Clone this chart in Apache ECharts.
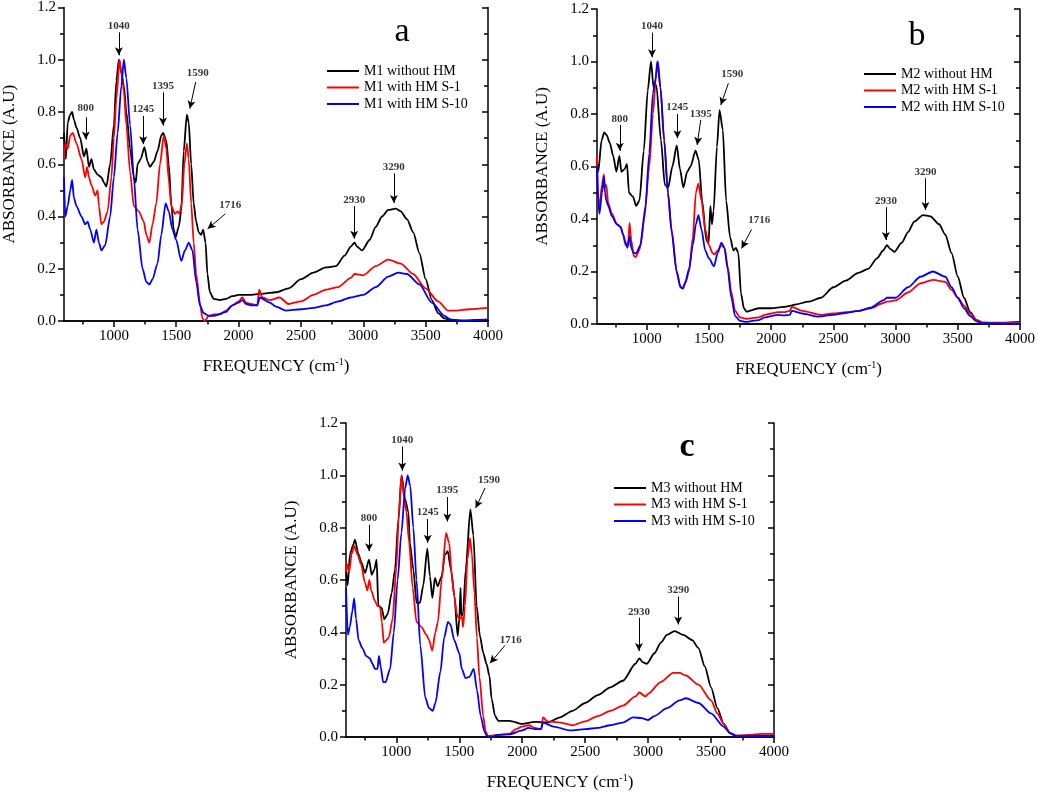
<!DOCTYPE html>
<html><head><meta charset="utf-8">
<script src="https://cdn.jsdelivr.net/npm/echarts@6/dist/echarts.min.js"></script>
<style>html,body{margin:0;padding:0;background:#fff}#c{width:1038px;height:792px}</style>
</head><body><div id="c"></div>
<script>
const FREQ_TICKS = [1000,1500,2000,2500,3000,3500,4000];
const FREQ_MINOR = [750,1250,1750,2250,2750,3250,3750];
const ABS_MINOR = [0.1,0.3,0.5,0.7,0.9,1.1];
const NAMES_A = ['M1 without HM','M1 with HM S-1','M1 with HM S-10'];
const NAMES_B = ['M2 without HM','M2 with HM S-1','M2 with HM S-10'];
const NAMES_C = ['M3 without HM','M3 with HM S-1','M3 with HM S-10'];
const PANEL_LETTERS = ['a','b','c'];

// Panel a (M1)
const a_black = [[600,0.72],[615,0.62],[630,0.76],[650,0.79],[665,0.80],[680,0.77],[700,0.74],[730,0.70],[760,0.63],[780,0.66],[800,0.59],[820,0.62],[840,0.58],[870,0.56],[900,0.55],[920,0.53],[940,0.515],[970,0.60],[1000,0.75],[1020,0.92],[1040,1.00],[1060,0.95],[1080,0.90],[1100,0.80],[1130,0.66],[1160,0.55],[1175,0.53],[1190,0.60],[1215,0.62],[1245,0.665],[1270,0.61],[1290,0.59],[1320,0.61],[1350,0.65],[1380,0.71],[1395,0.72],[1420,0.69],[1440,0.60],[1460,0.45],[1480,0.35],[1495,0.32],[1520,0.36],[1540,0.42],[1560,0.65],[1585,0.79],[1600,0.76],[1620,0.60],[1640,0.45],[1660,0.38],[1680,0.34],[1700,0.33],[1716,0.35],[1735,0.30],[1750,0.18],[1770,0.11],[1800,0.085],[1850,0.08],[1900,0.085],[1950,0.095],[2000,0.10],[2100,0.10],[2200,0.105],[2300,0.11],[2400,0.125],[2500,0.16],[2600,0.185],[2700,0.205],[2780,0.21],[2850,0.25],[2900,0.285],[2930,0.30],[2950,0.285],[2990,0.27],[3050,0.31],[3100,0.36],[3150,0.40],[3200,0.425],[3260,0.43],[3300,0.42],[3350,0.39],[3400,0.34],[3450,0.26],[3500,0.16],[3550,0.08],[3600,0.03],[3650,0.01],[3700,0.005],[3800,0.002],[4000,0.005]];
const a_red = [[600,0.62],[610,0.68],[630,0.66],[650,0.71],[670,0.72],[700,0.68],[740,0.62],[770,0.55],[785,0.59],[800,0.55],[820,0.52],[850,0.48],[870,0.50],[880,0.44],[900,0.37],[920,0.38],[950,0.42],[980,0.55],[1000,0.70],[1020,0.85],[1045,1.00],[1060,0.95],[1080,0.88],[1100,0.75],[1130,0.57],[1160,0.44],[1200,0.42],[1240,0.38],[1260,0.33],[1285,0.30],[1310,0.37],[1340,0.45],[1370,0.60],[1400,0.71],[1420,0.66],[1440,0.54],[1460,0.44],[1490,0.41],[1510,0.42],[1525,0.41],[1545,0.45],[1565,0.60],[1585,0.68],[1600,0.62],[1620,0.45],[1640,0.30],[1660,0.18],[1690,0.07],[1710,0.01],[1730,0.0],[1760,0.02],[1800,0.025],[1850,0.025],[1900,0.04],[1950,0.06],[2000,0.075],[2030,0.09],[2060,0.07],[2100,0.065],[2150,0.06],[2165,0.12],[2190,0.09],[2250,0.08],[2330,0.09],[2400,0.065],[2500,0.075],[2600,0.10],[2700,0.12],[2800,0.13],[2900,0.165],[2930,0.18],[3000,0.175],[3100,0.21],[3200,0.235],[3300,0.22],[3400,0.18],[3500,0.125],[3600,0.075],[3680,0.04],[3750,0.04],[3850,0.045],[4000,0.05]];
const a_blue = [[600,0.55],[610,0.40],[630,0.44],[650,0.50],[665,0.54],[680,0.47],[700,0.44],[740,0.40],[770,0.37],[790,0.38],[810,0.35],[840,0.30],[860,0.35],[880,0.30],[900,0.27],[930,0.29],[970,0.40],[1000,0.55],[1030,0.72],[1060,0.90],[1080,1.00],[1100,0.93],[1130,0.75],[1160,0.55],[1190,0.35],[1230,0.20],[1260,0.15],[1285,0.14],[1310,0.16],[1350,0.22],[1380,0.33],[1415,0.45],[1440,0.42],[1470,0.35],[1500,0.31],[1540,0.23],[1570,0.27],[1600,0.30],[1630,0.27],[1660,0.15],[1690,0.06],[1720,0.03],[1760,0.02],[1800,0.02],[1900,0.035],[1950,0.06],[2000,0.07],[2030,0.08],[2060,0.065],[2100,0.06],[2150,0.06],[2170,0.09],[2250,0.07],[2300,0.055],[2380,0.04],[2500,0.045],[2600,0.05],[2700,0.06],[2800,0.075],[2900,0.09],[3000,0.10],[3100,0.13],[3200,0.17],[3280,0.185],[3350,0.18],[3450,0.14],[3550,0.07],[3650,0.02],[3700,0.005],[3800,0.0],[4000,0.005]];

// Panel b (M2)
const b_black = [[600,0.62],[610,0.58],[637,0.70],[658,0.73],[677,0.72],[703,0.69],[730,0.64],[756,0.58],[780,0.64],[796,0.58],[822,0.59],[841,0.61],[857,0.50],[889,0.485],[915,0.45],[941,0.47],[976,0.66],[1008,0.89],[1034,1.00],[1055,0.90],[1077,0.91],[1114,0.70],[1145,0.53],[1172,0.52],[1206,0.60],[1241,0.68],[1267,0.59],[1294,0.52],[1325,0.58],[1352,0.60],[1392,0.66],[1418,0.625],[1445,0.47],[1479,0.32],[1497,0.307],[1511,0.45],[1524,0.38],[1537,0.43],[1564,0.675],[1585,0.815],[1611,0.74],[1638,0.47],[1670,0.33],[1696,0.28],[1717,0.29],[1736,0.27],[1757,0.117],[1781,0.06],[1802,0.047],[1900,0.06],[2000,0.06],[2100,0.065],[2160,0.07],[2200,0.075],[2300,0.085],[2400,0.10],[2500,0.14],[2600,0.165],[2700,0.195],[2780,0.21],[2850,0.25],[2900,0.28],[2930,0.30],[2960,0.285],[2990,0.275],[3050,0.31],[3100,0.35],[3150,0.39],[3220,0.415],[3280,0.41],[3350,0.38],[3400,0.34],[3450,0.27],[3500,0.18],[3550,0.10],[3600,0.045],[3650,0.015],[3700,0.005],[3800,0.003],[4000,0.008]];
const b_red = [[600,0.64],[610,0.48],[620,0.45],[640,0.53],[655,0.57],[665,0.52],[675,0.53],[690,0.46],[720,0.42],[760,0.38],[790,0.37],[810,0.34],[830,0.30],[850,0.31],[862,0.385],[875,0.32],[895,0.26],[910,0.255],[940,0.28],[980,0.40],[1020,0.60],[1050,0.80],[1075,0.95],[1090,1.00],[1110,0.90],[1140,0.70],[1170,0.50],[1200,0.36],[1240,0.20],[1270,0.145],[1290,0.135],[1310,0.155],[1340,0.20],[1370,0.33],[1395,0.50],[1415,0.535],[1440,0.47],[1470,0.36],[1500,0.30],[1530,0.27],[1545,0.265],[1570,0.28],[1600,0.30],[1625,0.29],[1650,0.22],[1680,0.12],[1710,0.05],[1750,0.025],[1800,0.02],[1900,0.025],[1950,0.035],[2000,0.04],[2050,0.045],[2100,0.045],[2150,0.05],[2165,0.065],[2250,0.05],[2400,0.035],[2500,0.04],[2600,0.045],[2700,0.05],[2800,0.06],[2900,0.08],[2930,0.085],[3000,0.09],[3100,0.12],[3200,0.155],[3300,0.168],[3400,0.16],[3450,0.13],[3500,0.10],[3550,0.07],[3600,0.04],[3650,0.015],[3700,0.005],[4000,0.005]];
const b_blue = [[600,0.60],[610,0.46],[620,0.42],[640,0.50],[655,0.56],[665,0.50],[675,0.47],[690,0.45],[720,0.41],[760,0.38],[790,0.37],[810,0.34],[830,0.31],[845,0.29],[862,0.335],[875,0.29],[895,0.27],[915,0.27],[950,0.30],[990,0.45],[1020,0.65],[1050,0.88],[1070,0.93],[1085,1.00],[1110,0.90],[1140,0.70],[1170,0.50],[1200,0.35],[1240,0.20],[1270,0.14],[1290,0.135],[1310,0.16],[1340,0.21],[1370,0.30],[1395,0.38],[1415,0.415],[1440,0.36],[1470,0.28],[1500,0.25],[1540,0.22],[1570,0.27],[1600,0.31],[1625,0.29],[1650,0.21],[1680,0.10],[1710,0.03],[1750,0.012],[1800,0.008],[1900,0.015],[1950,0.025],[2000,0.03],[2050,0.035],[2100,0.033],[2150,0.035],[2165,0.05],[2250,0.04],[2380,0.028],[2500,0.035],[2600,0.042],[2700,0.05],[2800,0.062],[2900,0.09],[2930,0.10],[3000,0.10],[3100,0.14],[3200,0.18],[3300,0.20],[3400,0.18],[3450,0.14],[3500,0.10],[3550,0.06],[3600,0.03],[3650,0.01],[3700,0.003],[4000,0.0]];

// Panel c (M3)
const c_black = [[600,0.64],[613,0.58],[632,0.70],[658,0.735],[671,0.754],[698,0.70],[724,0.665],[751,0.627],[783,0.678],[804,0.62],[825,0.64],[843,0.678],[857,0.50],[883,0.494],[904,0.45],[931,0.47],[963,0.55],[989,0.64],[1016,0.83],[1042,1.00],[1069,0.91],[1095,0.86],[1108,0.74],[1135,0.64],[1161,0.513],[1188,0.513],[1214,0.58],[1246,0.72],[1267,0.614],[1286,0.532],[1307,0.608],[1328,0.576],[1360,0.614],[1386,0.697],[1408,0.71],[1434,0.64],[1461,0.539],[1487,0.386],[1500,0.45],[1510,0.57],[1516,0.46],[1530,0.475],[1551,0.64],[1588,0.87],[1612,0.77],[1638,0.50],[1664,0.386],[1691,0.32],[1717,0.278],[1739,0.234],[1757,0.145],[1784,0.081],[1810,0.062],[1900,0.062],[2000,0.05],[2100,0.058],[2200,0.055],[2300,0.075],[2400,0.10],[2500,0.13],[2600,0.16],[2700,0.19],[2800,0.215],[2900,0.28],[2930,0.30],[2960,0.285],[2990,0.28],[3050,0.32],[3100,0.36],[3150,0.39],[3210,0.405],[3280,0.39],[3350,0.37],[3400,0.34],[3450,0.27],[3500,0.19],[3550,0.11],[3600,0.05],[3650,0.015],[3700,0.005],[4000,0.005]];
const c_red = [[600,0.63],[610,0.66],[625,0.63],[645,0.70],[665,0.73],[690,0.70],[720,0.66],[750,0.59],[770,0.56],[785,0.60],[800,0.56],[830,0.52],[850,0.50],[870,0.50],[885,0.44],[900,0.36],[920,0.37],[940,0.38],[970,0.45],[1000,0.65],[1020,0.85],[1040,1.00],[1060,0.92],[1080,0.86],[1100,0.75],[1130,0.57],[1160,0.44],[1200,0.42],[1240,0.39],[1260,0.37],[1285,0.33],[1310,0.40],[1330,0.44],[1360,0.60],[1395,0.78],[1420,0.74],[1440,0.62],[1460,0.54],[1480,0.47],[1500,0.45],[1520,0.46],[1530,0.42],[1545,0.50],[1565,0.68],[1585,0.76],[1600,0.70],[1620,0.55],[1640,0.38],[1660,0.23],[1690,0.08],[1710,0.02],[1730,0.003],[1760,0.005],[1800,0.008],[1900,0.012],[1950,0.03],[2000,0.04],[2050,0.045],[2100,0.035],[2150,0.03],[2165,0.075],[2200,0.06],[2300,0.055],[2400,0.045],[2500,0.06],[2600,0.08],[2700,0.10],[2800,0.12],[2900,0.155],[2930,0.17],[2980,0.155],[3000,0.165],[3100,0.21],[3200,0.245],[3250,0.245],[3300,0.235],[3400,0.20],[3500,0.14],[3550,0.09],[3600,0.05],[3650,0.015],[3700,0.005],[3800,0.008],[3900,0.012],[4000,0.012]];
const c_blue = [[600,0.57],[615,0.39],[630,0.42],[650,0.48],[665,0.53],[680,0.45],[700,0.37],[730,0.34],[760,0.31],[790,0.30],[810,0.28],[830,0.26],[850,0.26],[862,0.31],[875,0.27],[895,0.21],[915,0.21],[950,0.26],[980,0.40],[1010,0.60],[1040,0.78],[1070,0.95],[1090,1.00],[1110,0.96],[1135,0.80],[1160,0.60],[1190,0.35],[1230,0.15],[1260,0.11],[1290,0.10],[1310,0.13],[1350,0.25],[1380,0.38],[1410,0.44],[1430,0.43],[1460,0.37],[1500,0.32],[1520,0.26],[1550,0.225],[1580,0.23],[1615,0.26],[1640,0.18],[1670,0.08],[1700,0.02],[1720,0.003],[1760,0.0],[1800,0.008],[1900,0.01],[2000,0.025],[2050,0.035],[2100,0.03],[2150,0.03],[2165,0.055],[2250,0.04],[2380,0.025],[2500,0.03],[2600,0.035],[2700,0.045],[2800,0.055],[2880,0.075],[2950,0.072],[3000,0.065],[3050,0.08],[3150,0.11],[3250,0.14],[3300,0.148],[3400,0.13],[3500,0.09],[3600,0.04],[3650,0.015],[3700,0.003],[4000,0.002]];

// Peak annotations: [x, y, text] and arrows [x1, y1, x2, y2]
const a_labels = [[775,0.815,'800'],[1040,1.128,'1040'],[1235,0.81,'1245'],[1394,0.90,'1395'],[1672,0.95,'1590'],[1934,0.444,'1716'],[2927,0.463,'2930'],[3245,0.589,'3290']];
const a_arrows = [[775,0.78,775,0.695],[1040,1.105,1040,1.017],[1235,0.785,1235,0.677],[1394,0.875,1394,0.748],[1656,0.915,1609,0.813],[1894,0.41,1752,0.353],[2927,0.44,2927,0.315],[3245,0.565,3245,0.452]];
const b_labels = [[783,0.781,'800'],[1042,1.133,'1040'],[1246,0.825,'1245'],[1434,0.80,'1395'],[1688,0.952,'1590'],[1905,0.394,'1716'],[2922,0.469,'2930'],[3240,0.578,'3290']];
const b_arrows = [[783,0.758,783,0.66],[1042,1.11,1042,1.016],[1246,0.80,1246,0.708],[1434,0.777,1405,0.682],[1656,0.917,1595,0.834],[1842,0.36,1762,0.288],[2922,0.445,2922,0.32],[3240,0.555,3240,0.434]];
const c_labels = [[783,0.837,'800'],[1047,1.135,'1040'],[1249,0.858,'1245'],[1405,0.942,'1395'],[1736,0.98,'1590'],[1908,0.371,'1716'],[2927,0.479,'2930'],[3239,0.56,'3290']];
const c_arrows = [[783,0.811,783,0.71],[1047,1.11,1047,1.018],[1249,0.833,1249,0.742],[1405,0.917,1405,0.824],[1704,0.951,1630,0.875],[1863,0.35,1744,0.282],[2927,0.456,2927,0.329],[3239,0.537,3239,0.43]];

const FONT = "'Liberation Serif','Times New Roman',serif";
const COLORS = ['#000000','#ff0000','#0000ff'];

const GRIDS = [
  {left:61, top:5, width:427, height:316},
  {left:597, top:9, width:428, height:315},
  {left:346, top:423, width:428, height:315}
];
const LEGEND_POS = [{left:327, top:64},{left:864, top:67},{left:614, top:481}];
const LETTER_POS = [[402,32],[917,36],[687,447]];

const panels = [
  {names:NAMES_A, data:[a_black,a_red,a_blue], labels:a_labels, arrows:a_arrows},
  {names:NAMES_B, data:[b_black,b_red,b_blue], labels:b_labels, arrows:b_arrows},
  {names:NAMES_C, data:[c_black,c_red,c_blue], labels:c_labels, arrows:c_arrows}
];

const TICK_STYLE = {color:'#000', width:1.5};
const xAxes = [], yAxes = [], series = [], legends = [], graphics = [];
panels.forEach((p, i) => {
  const xBase = xAxes.length;
  const common = {type:'value', gridIndex:i, min:600, max:4000, splitLine:{show:false}};
  xAxes.push(Object.assign({}, common, {
    position:'bottom',
    axisLine:{show:true, lineStyle:TICK_STYLE},
    axisTick:{show:true, inside:false, length:6, customValues:FREQ_TICKS, lineStyle:TICK_STYLE},
    axisLabel:{show:true, customValues:FREQ_TICKS, margin:8, color:'#000', fontFamily:FONT, fontSize:15, formatter:v=>String(v)},
    name:'{t|FREQUENCY (cm}{s|-1}{t|)}', nameLocation:'middle', nameGap:36,
    nameTextStyle:{rich:{t:{fontFamily:FONT, fontSize:17, color:'#000'}, s:{fontFamily:FONT, fontSize:10, color:'#000', verticalAlign:'top', padding:[0,0,9,0]}}}
  }));
  xAxes.push(Object.assign({}, common, {
    position:'bottom',
    axisLine:{show:false},
    axisTick:{show:true, inside:false, length:3.5, customValues:FREQ_MINOR, lineStyle:TICK_STYLE},
    axisLabel:{show:false}
  }));
  xAxes.push(Object.assign({}, common, {
    position:'top',
    axisLine:{show:true, lineStyle:TICK_STYLE},
    axisTick:{show:true, inside:true, length:6, customValues:FREQ_TICKS, lineStyle:TICK_STYLE},
    axisLabel:{show:false}
  }));
  xAxes.push(Object.assign({}, common, {
    position:'top',
    axisLine:{show:false},
    axisTick:{show:true, inside:true, length:3.5, customValues:FREQ_MINOR, lineStyle:TICK_STYLE},
    axisLabel:{show:false}
  }));
  const yBase = yAxes.length;
  const ycommon = {type:'value', gridIndex:i, min:0, max:1.2, interval:0.2, splitLine:{show:false}};
  yAxes.push(Object.assign({}, ycommon, {
    position:'left',
    axisLine:{show:true, lineStyle:TICK_STYLE},
    axisTick:{show:true, inside:false, length:6, lineStyle:TICK_STYLE},
    axisLabel:{show:true, margin:8, color:'#000', fontFamily:FONT, fontSize:15, formatter:v=>v.toFixed(1)},
    name:'ABSORBANCE (A.U)', nameLocation:'middle', nameGap:46, nameRotate:90,
    nameTextStyle:{fontFamily:FONT, fontSize:17, color:'#000'}
  }));
  yAxes.push(Object.assign({}, ycommon, {
    position:'left',
    axisLine:{show:false},
    axisTick:{show:true, inside:false, length:4, customValues:ABS_MINOR, lineStyle:TICK_STYLE},
    axisLabel:{show:false}
  }));
  yAxes.push(Object.assign({}, ycommon, {
    position:'right',
    axisLine:{show:true, lineStyle:TICK_STYLE},
    axisTick:{show:true, inside:true, length:6, lineStyle:TICK_STYLE},
    axisLabel:{show:false}
  }));
  yAxes.push(Object.assign({}, ycommon, {
    position:'right',
    axisLine:{show:false},
    axisTick:{show:true, inside:true, length:4, customValues:ABS_MINOR, lineStyle:TICK_STYLE},
    axisLabel:{show:false}
  }));
  p.names.forEach((nm, k) => {
    series.push({
      type:'line', name:nm, xAxisIndex:xBase, yAxisIndex:yBase, data:p.data[k],
      showSymbol:false, symbol:'none', smooth:0.25, smoothMonotone:'x',
      lineStyle:{color:COLORS[k], width:1.8}, itemStyle:{color:COLORS[k]},
      silent:true, animation:false, z:2+k
    });
  });
  series.push({
    type:'scatter', name:'ann'+i, xAxisIndex:xBase, yAxisIndex:yBase,
    data:p.labels.map(l=>({value:[l[0],l[1]], label:{formatter:l[2]}})),
    symbolSize:0, silent:true, animation:false, z:10,
    label:{show:true, position:'inside', color:'#000', fontFamily:FONT, fontSize:11, fontWeight:'bold'},
    markLine:{
      silent:true, animation:false, symbol:['none','arrow'], symbolSize:[6,8],
      lineStyle:{color:'#000', width:1, type:'solid'}, label:{show:false},
      data:p.arrows.map(a=>[{coord:[a[0],a[1]]},{coord:[a[2],a[3]]}])
    }
  });
  legends.push({
    data:p.names, orient:'vertical', left:LEGEND_POS[i].left, top:LEGEND_POS[i].top,
    icon:'rect', itemWidth:32, itemHeight:2, itemGap:2.5, selectedMode:false,
    textStyle:{fontFamily:FONT, fontSize:14, color:'#000', lineHeight:14},
    padding:0
  });
  graphics.push({
    type:'text', x:LETTER_POS[i][0], y:LETTER_POS[i][1], silent:true,
    style:{text:PANEL_LETTERS[i], font:(i===2?'bold ':'')+'34px '+FONT, fill:'#000', textAlign:'center', textVerticalAlign:'middle'}
  });
});

const chart = echarts.init(document.getElementById('c'), null, {renderer:'canvas'});
chart.setOption({
  backgroundColor:'#fff',
  animation:false,
  grid:GRIDS,
  xAxis:xAxes,
  yAxis:yAxes,
  legend:legends,
  series:series,
  graphic:graphics
});
</script></body></html>
